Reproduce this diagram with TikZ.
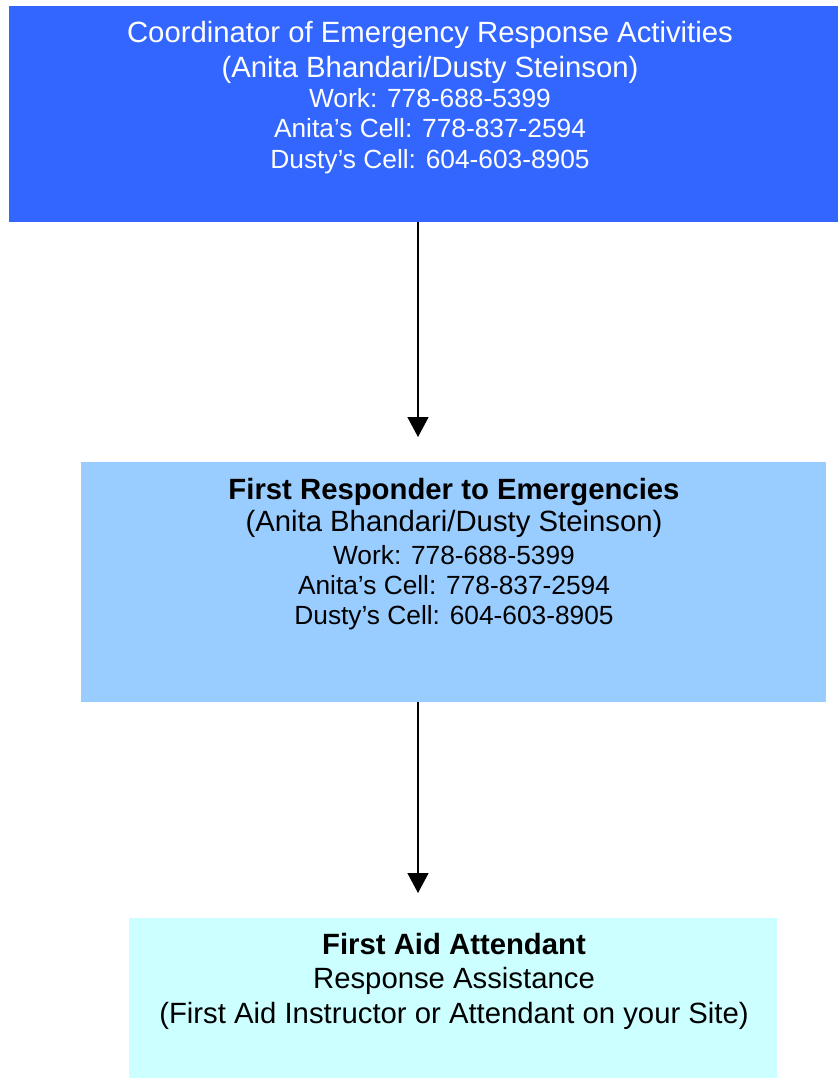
\documentclass[tikz,border=0pt]{standalone}
\usepackage{fontspec}
\setmainfont{Liberation Sans}
\usetikzlibrary{arrows.meta}
\definecolor{topblue}{HTML}{3366FF}
\definecolor{midblue}{HTML}{99CCFF}
\definecolor{lowcyan}{HTML}{CCFFFF}
\tikzset{
  boxshape/.style={rectangle, draw=none, inner sep=0pt, anchor=north west},
  bigtxt/.style={anchor=base, inner sep=0pt, font=\fontsize{29.3}{34}\selectfont},
  smalltxt/.style={anchor=base, inner sep=0pt, font=\fontsize{26.3}{30}\selectfont},
  boldtxt/.style={bigtxt, font=\fontsize{29.3}{34}\selectfont\bfseries},
  flowarrow/.style={draw=black, line width=1.6pt, -{Triangle[width=21pt,length=20pt]}}
}
\begin{document}
\begin{tikzpicture}[x=1pt,y=-1pt]
\useasboundingbox (0,0) rectangle (838,1079);
% boxes
\node[boxshape, fill=topblue, minimum width=829pt, minimum height=216pt] (coord) at (9,6) {};
\node[boxshape, fill=midblue, minimum width=745pt, minimum height=240pt] (first) at (81,462) {};
\node[boxshape, fill=lowcyan, minimum width=648pt, minimum height=160pt] (aid) at (129,918) {};
% top box text
\begin{scope}[text=white]
\node[bigtxt] (c1) at (430,42.5) {Coordinator of Emergency Response Activities};
\node[bigtxt] (c2) at (430,77) {(Anita Bhandari/Dusty Steinson)};
\node[smalltxt] (c3) at (430,107) {Work: 778-688-5399};
\node[smalltxt] (c4) at (430,137.5) {Anita’s Cell: 778-837-2594};
\node[smalltxt] (c5) at (430,168) {Dusty’s Cell: 604-603-8905};
\end{scope}
% middle box text
\node[boldtxt] (f1) at (454,499.5) {First Responder to Emergencies};
\node[bigtxt] (f2) at (454,531) {(Anita Bhandari/Dusty Steinson)};
\node[smalltxt] (f3) at (454,564.5) {Work: 778-688-5399};
\node[smalltxt] (f4) at (454,594.5) {Anita’s Cell: 778-837-2594};
\node[smalltxt] (f5) at (454,624.5) {Dusty’s Cell: 604-603-8905};
% bottom box text
\node[boldtxt] (a1) at (454,954) {First Aid Attendant};
\node[bigtxt] (a2) at (454,988) {Response Assistance};
\node[bigtxt] (a3) at (454,1023) {(First Aid Instructor or Attendant on your Site)};
% connectors
\coordinate (tipone) at (418,437);
\coordinate (tiptwo) at (418,893);
\draw[flowarrow] (coord.south -| tipone) -- (tipone);
\draw[flowarrow] (first.south -| tiptwo) -- (tiptwo);
\end{tikzpicture}
\end{document}
